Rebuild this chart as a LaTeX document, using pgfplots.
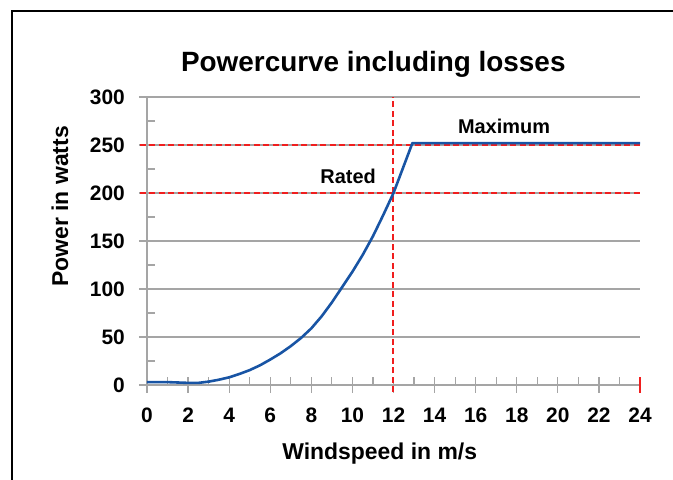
\documentclass[border=0pt]{standalone}
\usepackage{pgfplots}
\pgfplotsset{compat=1.18}
\usepackage{fontspec}
\setmainfont{Liberation Sans}
\definecolor{curveblue}{RGB}{24,84,164}
\definecolor{gridgray}{RGB}{165,165,165}
\definecolor{refred}{RGB}{240,30,30}

\begin{document}
\begin{tikzpicture}[x=1bp,y=1bp]
\useasboundingbox (-147,-95) rectangle (526,385);
% outer frame (top and left edges only are visible)
\draw[black, line width=1.3bp] (-135,-100) -- (-135,374) -- (530,374);
\begin{axis}[
    at={(0,0)}, anchor=south west,
    scale only axis,
    width=493bp, height=288bp,
    xmin=0, xmax=24, ymin=0, ymax=300,
    clip=false,
    axis lines*=left,
    axis line style={gridgray, line width=1.3bp},
    xtick={0,2,...,24}, minor xtick={1,3,...,23},
    ytick={0,50,...,300}, minor ytick={25,75,...,275},
    extra x ticks={24}, extra x tick labels={},
    extra x tick style={major tick style={refred, line width=1.3bp}},
    ymajorgrids,
    major grid style={gridgray, line width=1.3bp},
    tick align=center,
    major tick length=16bp,
    minor tick length=8bp,
    tick style={gridgray, line width=1.2bp},
    minor x tick style={yshift=4bp},
    minor y tick style={xshift=4bp},
    /pgf/number format/assume math mode=true,
    ticklabel style={font=\fontsize{21}{24}\selectfont\bfseries},
    xticklabel style={anchor=center, yshift=-22bp},
    yticklabel style={anchor=east, inner sep=0pt, xshift=-14bp},
    title={Powercurve including losses},
    title style={font=\fontsize{28}{32}\selectfont\bfseries,
        at={(axis description cs:0.459,1)}, anchor=center, yshift=27bp},
    xlabel={Windspeed in m/s},
    xlabel style={font=\fontsize{23}{26}\selectfont\bfseries,
        at={(axis description cs:0.472,0)}, anchor=center, yshift=-69bp},
    ylabel={Power in watts},
    ylabel style={font=\fontsize{23}{26}\selectfont\bfseries,
        at={(axis description cs:-0.1765,0.62)}, anchor=center},
]
% reference lines: rated and maximum power, rated wind speed
\addplot[refred, line width=1.3bp, dash pattern=on 6bp off 3.5bp] coordinates {(-0.35,250) (24,250)};
\addplot[refred, line width=1.3bp, dash pattern=on 6bp off 3.5bp] coordinates {(-0.35,200) (24,200)};
\addplot[draw=refred, line width=2bp, dash pattern=on 6bp off 3.5bp] coordinates {(11.99,-7.5) (11.99,300)};

% power curve
\addplot[curveblue, line width=2.6bp, line join=round] coordinates {
    (0,3) (0.5,3) (1,3) (1.5,2.6) (2,2.2) (2.5,2.2) (3,3.5) (3.5,5.5)
    (4,8) (4.5,11.5) (5,15.5) (5.5,20.5) (6,26.5) (6.5,33) (7,40.5)
    (7.5,49) (8,59) (8.5,71.5) (9,86) (9.5,102) (10,118) (10.5,135.5)
    (11,155) (11.5,177) (12,200) (12.92,252) (24,252)
};

\node[font=\fontsize{20}{24}\selectfont\bfseries] at (axis cs:17.38,269.8) {Maximum};
\node[font=\fontsize{20}{24}\selectfont\bfseries] at (axis cs:9.79,217.7) {Rated};
\end{axis}
\end{tikzpicture}
\end{document}
